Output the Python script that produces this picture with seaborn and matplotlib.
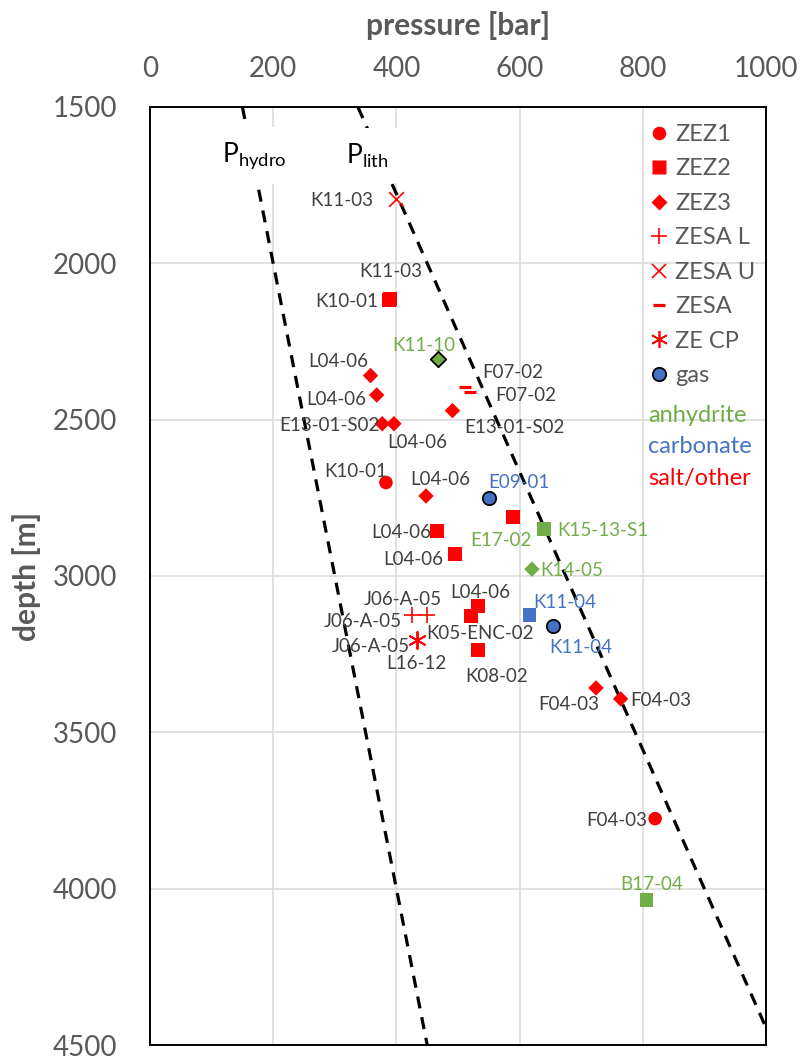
import numpy as np
import pandas as pd
import matplotlib
matplotlib.use("Agg")
import matplotlib.pyplot as plt
import seaborn as sns
from matplotlib.lines import Line2D

# ---------------- data ----------------
wells = ["K11-03", "K11-03", "K10-01", "K11-10", "L04-06", "L04-06", "E13-01-S02", "L04-06",
         "F07-02", "F07-02", "E13-01-S02", "K10-01", "L04-06", "E09-01", "E17-02", "K15-13-S1",
         "L04-06", "L04-06", "K14-05", "J06-A-05", "J06-A-05", "J06-A-05", "L16-12", "L04-06",
         "K05-ENC-02", "K08-02", "K11-04", "K11-04", "F04-03", "F04-03", "F04-03", "B17-04"]
pressure = [400, 390, 388, 468, 358, 368, 377, 396,
            511, 520, 491, 383, 448, 550, 589, 639,
            466, 495, 620, 426, 450, 433, 433, 533,
            521, 533, 616, 654, 724, 764, 820, 806]
depth = [1795, 2115, 2117, 2307, 2359, 2421, 2513, 2513,
         2394, 2410, 2471, 2701, 2744, 2751, 2810, 2850,
         2855, 2930, 2978, 3126, 3126, 3204, 3204, 3095,
         3129, 3236, 3124, 3159, 3358, 3393, 3776, 4037]
zone = ["ZESA U", "ZEZ2", "ZEZ2", "ZEZ3", "ZEZ3", "ZEZ3", "ZEZ3", "ZEZ3",
        "ZESA", "ZESA", "ZEZ3", "ZEZ1", "ZEZ3", "gas", "ZEZ2", "ZEZ2",
        "ZEZ2", "ZEZ2", "ZEZ3", "ZESA L", "ZESA L", "ZE CP", "ZE CP", "ZEZ2",
        "ZEZ2", "ZEZ2", "ZEZ2", "gas", "ZEZ3", "ZEZ3", "ZEZ1", "ZEZ2"]
marker_litho = ["salt", "salt", "salt", "anhydrite", "salt", "salt", "salt", "salt",
                "salt", "salt", "salt", "salt", "salt", "carbonate", "salt", "anhydrite",
                "salt", "salt", "anhydrite", "salt", "salt", "salt", "salt", "salt",
                "salt", "salt", "carbonate", "carbonate", "salt", "salt", "salt", "anhydrite"]
label_litho = ["other", "other", "other", "anhydrite", "other", "other", "other", "other",
               "other", "other", "other", "other", "other", "carbonate", "anhydrite", "anhydrite",
               "other", "other", "anhydrite", "other", "other", "other", "other", "other",
               "other", "other", "carbonate", "carbonate", "other", "other", "other", "anhydrite"]
gas_flag = [False, False, False, True, False, False, False, False,
            False, False, False, False, False, True, False, False,
            False, False, False, False, False, False, False, False,
            False, False, False, True, False, False, False, False]

# gradient lines
line_depth = [1500, 4500]
p_hydro = [150, 450]
p_lith = [337.5, 1012.5]

x_ticks = [0, 200, 400, 600, 800, 1000]
y_ticks = [1500, 2000, 2500, 3000, 3500, 4000, 4500]
legend_labels = ["ZEZ1", "ZEZ2", "ZEZ3", "ZESA L", "ZESA U", "ZESA", "ZE CP", "gas"]
litho_text = ["anhydrite", "carbonate", "salt/other"]

# ---------------- layout / style ----------------
label_offsets = [(-55, 1), (1, -28), (-42, 2), (-14, -14), (-32, -14), (-40, 5), (-53, 2), (23, 19),
                 (48, -14), (55, 4), (62, 17), (-30, -11), (14, -16), (30, -16), (-12, 24), (59, 1),
                 (-36, 2), (-42, 5), (40, 1), (-10, -16), (-64, 6), (-46, 7), (0, 24), (2, -13),
                 (9, 17), (18, 27), (35, -12), (28, 22), (-27, 17), (40, 2), (-38, 2), (5, -16)]

RED = "#FF0000"
GREEN = "#70AD47"
BLUE = "#4472C4"
GRAY = "#595959"
DARK = "#404040"
fill_colors = {"salt": RED, "anhydrite": GREEN, "carbonate": BLUE}
text_colors = {"other": DARK, "anhydrite": GREEN, "carbonate": BLUE}
markers = {"ZEZ1": "o", "ZEZ2": "s", "ZEZ3": "D", "ZESA L": "+", "ZESA U": "x",
           "ZESA": "_", "ZE CP": (6, 2, 0), "gas": "o"}
sizes = {"ZEZ1": 95, "ZEZ2": 100, "ZEZ3": 62, "ZESA L": 135, "ZESA U": 112,
         "ZESA": 75, "ZE CP": 150, "gas": 92}
lws = {"ZESA L": 1.2, "ZESA U": 1.2, "ZESA": 2.3, "ZE CP": 1.2}

sns.set_style("white")
FONT = ["Lato", "DejaVu Sans"]
plt.rcParams["font.family"] = FONT
plt.rcParams["mathtext.fontset"] = "custom"
plt.rcParams["mathtext.rm"] = "Lato"

df = pd.DataFrame({"well": wells, "pressure": pressure, "depth": depth, "zone": zone,
                   "mlitho": marker_litho, "llitho": label_litho, "gas": gas_flag})

fig = plt.figure(figsize=(8.09, 10.59), dpi=100)
ax = fig.add_axes([150 / 809, 1 - 1045 / 1059, 616 / 809, 938 / 1059])

# gradient lines
for pvals in (p_hydro, p_lith):
    sns.lineplot(x=pvals, y=line_depth, ax=ax, color="black", lw=2.3,
                 linestyle=(0, (3.8, 2.8)), sort=False, zorder=2)

# scatter groups
for (zn, ml, g), sub in df.groupby(["zone", "mlitho", "gas"], sort=False):
    m = markers[zn]
    kw = dict(data=sub, x="pressure", y="depth", ax=ax, marker=m, s=sizes[zn],
              color=fill_colors[ml], legend=False, zorder=4)
    if zn in lws:
        kw["linewidth"] = lws[zn]
    elif g:
        kw["edgecolor"] = "black"
        kw["linewidth"] = 1.3
    else:
        kw["edgecolor"] = "none"
        kw["linewidth"] = 0
    sns.scatterplot(**kw)

# point labels
for i, row in df.iterrows():
    dx, dy = label_offsets[i]
    ax.annotate(row["well"], (row["pressure"], row["depth"]), xytext=(dx, -dy),
                textcoords="offset pixels", ha="center", va="center",
                fontsize=13.5, color=text_colors[row["llitho"]], zorder=5)

# P labels
ax.text(170, 1655, r"P$_{\mathregular{hydro}}$", fontsize=19, color="black", ha="center",
        va="center", zorder=3, bbox=dict(boxstyle="square,pad=0.5", fc="white", ec="none"))
ax.text(352, 1655, r"P$_{\mathregular{lith}}$", fontsize=19, color="black", ha="center",
        va="center", zorder=3, bbox=dict(boxstyle="square,pad=0.5", fc="white", ec="none"))

# axes
ax.set_xlim(0, 1000)
ax.set_ylim(4500, 1500)
ax.xaxis.tick_top()
ax.xaxis.set_label_position("top")
ax.set_xticks(x_ticks)
ax.set_yticks(y_ticks)
ax.tick_params(axis="both", length=0, labelsize=20, labelcolor=GRAY)
ax.tick_params(axis="x", pad=18)
ax.tick_params(axis="y", pad=23.5)
ax.grid(True, color="#d9d9d9", lw=1.1)
ax.set_axisbelow(True)
for sp in ax.spines.values():
    sp.set_visible(True)
    sp.set_color("black")
    sp.set_linewidth(1.4)

ax.set_xlabel("pressure [bar]", fontsize=21.5, fontweight="bold", color=GRAY)
ax.set_ylabel("depth [m]", fontsize=21.5, fontweight="bold", color=GRAY)
ax.xaxis.set_label_coords(0.5, (1045 - 26) / 938)
ax.xaxis.label.set_va("center")
ax.yaxis.set_label_coords((27 - 150) / 616, 0.5)
ax.yaxis.label.set_va("center")

# legend
handles = []
for lab in legend_labels:
    m = markers[lab]
    if lab == "gas":
        h = Line2D([], [], ls="none", marker="o", markersize=9.6, mfc=BLUE, mec="black", mew=1.3)
    elif lab in lws:
        h = Line2D([], [], ls="none", marker=m, markersize=np.sqrt(sizes[lab]), color=RED,
                   mew=lws[lab])
    else:
        h = Line2D([], [], ls="none", marker=m, markersize=np.sqrt(sizes[lab]), mfc=RED, mec="none")
    handles.append(h)
leg = ax.legend(handles, legend_labels, loc="upper left",
                bbox_to_anchor=((648 - 150) / 616, (1045 - 124) / 938),
                frameon=False, fontsize=17, handlelength=0.9, handletextpad=0.25, borderpad=0,
                borderaxespad=0, labelspacing=0.57, labelcolor=GRAY)

for txt, col, yb in zip(litho_text, [GREEN, BLUE, RED], [421.7, 453, 485]):
    ax.text((648 - 150) / 616, (1045 - yb) / 938, txt, transform=ax.transAxes, fontsize=17,
            color=col, ha="left", va="baseline")

fig.savefig("out.png", dpi=100)
